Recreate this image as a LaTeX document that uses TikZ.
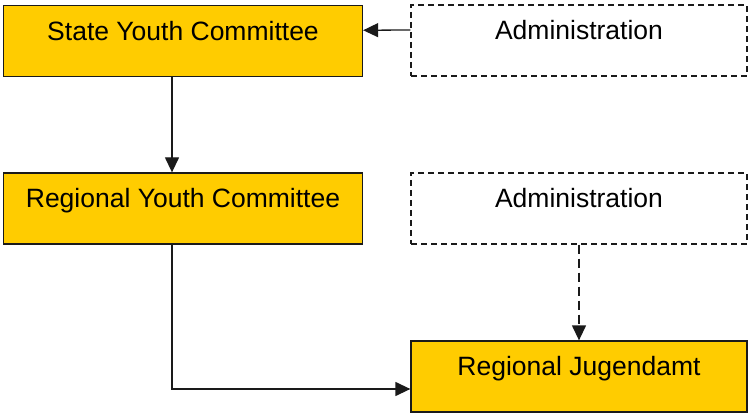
\documentclass[tikz,border=0pt]{standalone}
\usepackage{fontspec}
\setmainfont{Liberation Sans}
\usetikzlibrary{arrows.meta}
\definecolor{boxfill}{HTML}{FFCC00}
\definecolor{edge}{HTML}{1A1A1A}
\begin{document}
\begin{tikzpicture}[x=1pt,y=-1pt,
  unit/.style={draw=edge,line width=1.3pt,fill=boxfill,minimum width=359pt,minimum height=71pt,inner sep=0pt},
  admin/.style={draw=edge,line width=1.3pt,dash pattern=on 6pt off 4pt,fill=white,minimum width=336pt,minimum height=71pt,inner sep=0pt},
  lbl/.style={anchor=base,inner sep=0pt,font=\fontsize{26.5}{30}\selectfont},
  conn/.style={draw=edge,line width=1.3pt,-{Triangle[length=15pt,width=14pt]}}]
\useasboundingbox (0,0) rectangle (749,414);
\node[unit] (b1) at (183,40.75) {};
\node[admin] (a1) at (579,40.5) {};
\node[unit] (b2) at (183,208.5) {};
\node[admin] (a2) at (579,208.5) {};
\node[unit,minimum width=336pt] (b3) at (579,376.5) {};
\node[lbl] (t1) at ([yshift=-35.5pt]b1.north) {State Youth Committee};
\node[lbl] (t2) at ([yshift=-35.5pt]a1.north) {Administration};
\node[lbl] (t3) at ([yshift=-35.5pt]b2.north) {Regional Youth Committee};
\node[lbl] (t4) at ([yshift=-35.5pt]a2.north) {Administration};
\node[lbl] (t5) at ([yshift=-35.5pt]b3.north) {Regional Jugendamt};
\draw[conn] ([yshift=10.5pt]a1.west) -- ([yshift=10.5pt]b1.east);
\draw[conn] ([xshift=-11pt]b1.south) -- ([xshift=-11pt]b2.north);
\draw[conn] ([xshift=-11pt]b2.south) |- ([yshift=-12.5pt]b3.west);
\draw[conn,dash pattern=on 9pt off 5pt] (a2.south) -- (b3.north);
\end{tikzpicture}
\end{document}
